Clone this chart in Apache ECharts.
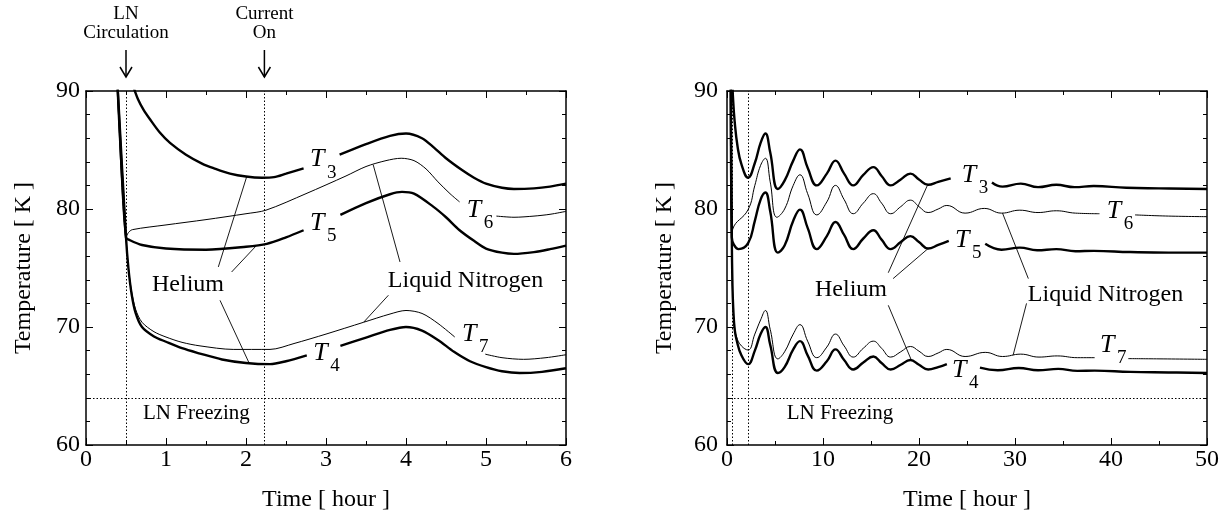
<!DOCTYPE html>
<html>
<head>
<meta charset="utf-8">
<title>Temperature</title>
<script src="https://cdn.jsdelivr.net/npm/echarts@6/dist/echarts.min.js"></script>
<style>
  html, body { margin: 0; padding: 0; background: #fff; }
  #myChart { width: 1227px; height: 514px; }
</style>
</head>
<body>
<div id="myChart"></div>
<script>
// ---- left panel, 0-6 h  ([time, K], null = gap for a label) ----
const leftT3 = [[0.59,90.4],[0.65,89.3],[0.72,88.4],[0.8,87.6],[0.92,86.5],[1.05,85.6],[1.25,84.6],[1.45,83.85],[1.6,83.45],[1.8,83.0],[2.0,82.75],[2.2,82.65],[2.35,82.7],[2.5,83.0],[2.72,83.45],
  null,
  [3.17,84.6],[3.5,85.5],[3.8,86.2],[4.0,86.4],[4.2,86.0],[4.35,85.2],[4.5,84.3],[4.7,83.3],[4.85,82.65],[5.0,82.15],[5.2,81.8],[5.35,81.7],[5.6,81.75],[5.8,81.9],[6.0,82.15]];
const leftT5 = [[0.39,91],[0.5,77.6],[0.55,77.35],[0.7,76.95],[1.0,76.65],[1.5,76.55],[2.0,76.8],[2.26,77.05],[2.5,77.6],[2.72,78.2],
  null,
  [3.18,79.5],[3.5,80.5],[3.8,81.25],[3.95,81.45],[4.1,81.3],[4.34,80.2],[4.5,79.3],[4.67,78.2],[4.85,77.3],[5.0,76.65],[5.2,76.3],[5.35,76.2],[5.6,76.35],[5.8,76.6],[6.0,76.9]];
const leftT6 = [[0.39,91],[0.5,77.6],[0.53,78.0],[0.58,78.25],[1.0,78.65],[1.5,79.1],[2.0,79.6],[2.25,79.9],[2.75,81.3],[3.25,82.8],[3.5,83.6],[3.75,84.1],[3.94,84.3],[4.1,84.1],[4.25,83.4],[4.4,82.3],[4.55,81.3],[4.67,80.6],
  null,
  [5.13,79.4],[5.35,79.3],[5.6,79.4],[5.8,79.55],[6.0,79.8]];
const leftT7 = [[0.39,91],[0.5,77.6],[0.53,75.0],[0.57,73.0],[0.62,71.5],[0.7,70.4],[0.85,69.6],[1.0,69.15],[1.2,68.7],[1.425,68.4],[1.84,68.1],[2.3,68.1],[2.6,68.6],[3.0,69.4],[3.47,70.4],[3.8,71.1],[4.0,71.4],[4.2,71.15],[4.4,70.3],[4.61,69.15],
  null,
  [4.99,67.7],[5.2,67.4],[5.47,67.26],[5.75,67.4],[6.0,67.65]];
const leftT4 = [[0.39,91],[0.5,77.6],[0.53,75.0],[0.57,72.8],[0.62,71.2],[0.7,70.0],[0.85,69.2],[1.0,68.75],[1.2,68.2],[1.425,67.75],[1.7,67.25],[2.0,66.95],[2.3,66.85],[2.5,67.1],[2.76,67.6],
  null,
  [3.18,68.4],[3.5,69.1],[3.8,69.75],[4.0,70.0],[4.2,69.7],[4.4,68.9],[4.6,67.9],[4.8,67.1],[5.0,66.6],[5.2,66.25],[5.42,66.1],[5.7,66.2],[6.0,66.5]];

// ---- right panel, 0-50 h ----
const rightT3 = [[0.55,91],[0.62,89.5],[0.8,87.4],[1.1,85.3],[1.5,83.8],[2.2,82.65],[2.9,83.9],[3.5,85.6],[4.0,86.4],[4.5,84.8],[5.3,81.7],[6.0,82.4],[6.9,84.1],[7.6,85.05],[8.4,83.5],[9.35,82.0],[10.4,83.0],[11.3,84.1],[12.2,83.0],[13.15,82.0],[14.2,82.9],[15.25,83.55],[16.1,82.8],[17.05,82.0],[18.1,82.5],[19.1,83.0],[20.0,82.5],[20.95,82.05],[22.0,82.3],[23.3,82.6],
  null,
  [27.6,82.25],[28.7,81.9],[30.6,82.15],[32.4,81.85],[34.3,82.05],[36.2,81.85],[38.2,81.95],[41.6,81.8],[45,81.75],[50,81.7]];
const rightT6 = [[0.39,91],[0.5,77.6],[0.6,78.3],[2.2,79.95],[2.9,82.0],[3.5,83.7],[4.0,84.3],[4.5,82.3],[5.2,79.3],[6.0,80.0],[6.9,82.0],[7.6,82.9],[8.4,81.3],[9.35,79.5],[10.4,80.6],[11.3,82.0],[12.2,80.8],[13.15,79.6],[14.2,80.5],[15.25,81.3],[16.1,80.5],[17.05,79.6],[18.1,80.2],[19.1,80.75],[20.0,80.2],[20.95,79.7],[22.0,80.0],[22.9,80.3],[24.8,79.65],[26.8,80.05],[28.6,79.65],[30.5,79.9],[32.4,79.7],[34.3,79.85],[36.3,79.65],[38.8,79.6],
  null,
  [42.5,79.5],[46,79.4],[50,79.35]];
const rightT5 = [[0.39,91],[0.5,77.6],[0.7,77.0],[1.2,76.6],[2.2,77.1],[2.9,79.0],[3.5,80.8],[4.0,81.4],[4.5,79.8],[5.3,76.3],[6.0,76.9],[6.9,79.0],[7.6,79.95],[8.4,78.4],[9.35,76.6],[10.4,77.7],[11.3,78.9],[12.2,77.8],[13.15,76.6],[14.2,77.5],[15.25,78.2],[16.1,77.4],[17.05,76.6],[18.1,77.2],[19.1,77.7],[20.0,77.2],[20.95,76.65],[22.0,76.95],[23.1,77.3],
  null,
  [26.9,77.05],[28.6,76.55],[30.5,76.73],[32.3,76.5],[34.3,76.6],[36.3,76.42],[38.2,76.45],[42,76.35],[46,76.3],[50,76.3]];
const rightT7 = [[0.39,91],[0.5,77.6],[0.6,72.2],[0.75,70.3],[1.0,69.15],[1.5,68.4],[2.2,68.05],[2.9,69.4],[3.5,70.6],[4.0,71.4],[4.5,69.8],[5.3,67.3],[6.0,67.9],[6.9,69.4],[7.6,70.2],[8.4,68.8],[9.35,67.4],[10.4,68.3],[11.3,69.4],[12.2,68.4],[13.15,67.45],[14.2,68.2],[15.25,68.8],[16.1,68.2],[17.05,67.45],[18.1,67.9],[19.1,68.35],[20.0,67.95],[20.95,67.5],[22.0,67.8],[22.9,68.1],[24.8,67.5],[26.9,67.85],[28.7,67.5],[30.6,67.7],[32.5,67.45],[34.4,67.55],[36.5,67.4],[38.3,67.4],
  null,
  [41.8,67.32],[45,67.3],[50,67.26]];
const rightT4 = [[0.39,91],[0.5,77.6],[0.57,73.5],[0.65,71.6],[0.8,69.8],[1.0,68.9],[1.5,67.6],[2.2,66.85],[2.9,68.0],[3.5,69.4],[4.0,70.0],[4.5,68.5],[5.3,66.1],[6.0,66.6],[6.9,68.1],[7.6,68.8],[8.4,67.6],[9.35,66.3],[10.4,67.1],[11.3,68.1],[12.2,67.2],[13.15,66.4],[14.2,67.0],[15.25,67.5],[16.1,66.95],[17.05,66.4],[18.1,66.8],[19.1,67.2],[20.0,66.8],[20.95,66.4],[22.0,66.6],[22.9,66.85],
  null,
  [26.35,66.55],[28.2,66.33],[30.4,66.53],[32.4,66.33],[34.5,66.45],[36.5,66.28],[38.3,66.3],[42,66.2],[46,66.15],[50,66.1]];

// reference lines
const lnCirculation = 0.5;
const currentOn = 2.23;
const lnFreezing = 64;

// leader lines [[t,K],[t,K]]
const leftLeaders = [
  [[1.654,75.09],[2.008,82.72]],
  [[1.82,74.66],[2.13,76.9]],
  [[1.675,72.26],[2.04,66.93]],
  [[3.925,75.51],[3.59,83.75]],
  [[3.78,72.69],[3.47,70.4]]
];
const rightLeaders = [
  [[16.8,74.6],[20.9,82.05]],
  [[17.3,74.1],[20.95,76.65]],
  [[16.8,71.84],[19.2,67.2]],
  [[31.39,74.1],[28.7,79.65]],
  [[31.2,72.0],[29.8,67.6]]
];

const FONT = '"Liberation Serif", "Times New Roman", Times, serif';

function splitSegs(arr) {
  const out = [[]];
  arr.forEach(function (p) {
    if (p === null) out.push([]);
    else out[out.length - 1].push(p);
  });
  return out.filter(function (s) { return s.length; });
}

function lineSeries(arr, width, grid, smooth) {
  return splitSegs(arr).map(function (seg) {
    return {
      type: "line",
      xAxisIndex: grid * 2,
      yAxisIndex: grid * 2,
      data: seg,
      symbol: "none",
      smooth: smooth,
      lineStyle: { color: "#000", width: width },
      silent: true,
      z: 3,
    };
  });
}

function guideSeries(grid, leaders) {
  const dotted = { color: "#000", width: 1, type: [1.5, 2] };
  const solid = { color: "#000", width: 0.9, type: "solid" };
  const lines = [
    { xAxis: lnCirculation, lineStyle: dotted },
    { xAxis: currentOn, lineStyle: dotted },
    { yAxis: lnFreezing, lineStyle: dotted },
  ];
  leaders.forEach(function (l) {
    lines.push([{ coord: l[0], lineStyle: solid }, { coord: l[1] }]);
  });
  return {
    type: "line",
    xAxisIndex: grid * 2,
    yAxisIndex: grid * 2,
    data: [],
    silent: true,
    markLine: {
      silent: true,
      symbol: ["none", "none"],
      label: { show: false },
      animation: false,
      data: lines,
    },
  };
}

function xAxisCfg(grid, max, interval, pos) {
  return {
    type: "value", gridIndex: grid, position: pos,
    min: 0, max: max, interval: interval,
    axisLine: { show: true, onZero: false, lineStyle: { color: "#000", width: 1.5 } },
    axisTick: { show: true, inside: true, length: 7, lineStyle: { color: "#000", width: 1 } },
    minorTick: { show: true, splitNumber: 2, length: 4, lineStyle: { color: "#000", width: 1 } },
    splitLine: { show: false },
    axisLabel: { show: pos === "bottom", color: "#000", fontFamily: FONT, fontSize: 24, margin: 3 },
    name: pos === "bottom" ? "Time [ hour ]" : "",
    nameLocation: "middle",
    nameGap: 43,
    nameTextStyle: { color: "#000", fontFamily: FONT, fontSize: 24 },
  };
}

function yAxisCfg(grid, pos, margin) {
  return {
    type: "value", gridIndex: grid, position: pos,
    min: 60, max: 90, interval: 10,
    axisLine: { show: true, onZero: false, lineStyle: { color: "#000", width: 1.5 } },
    axisTick: { show: true, inside: true, length: 7, lineStyle: { color: "#000", width: 1 } },
    minorTick: { show: true, splitNumber: 5, length: 4, lineStyle: { color: "#000", width: 1 } },
    splitLine: { show: false },
    axisLabel: { show: pos === "left", color: "#000", fontFamily: FONT, fontSize: 24, margin: margin },
    name: pos === "left" ? "Temperature [ K ]" : "",
    nameLocation: "middle",
    nameGap: 50,
    nameTextStyle: { color: "#000", fontFamily: FONT, fontSize: 24 },
  };
}

const THICK = 2.4;
const THIN = 1;

let series = [guideSeries(0, leftLeaders), guideSeries(1, rightLeaders)];
series = series.concat(
  lineSeries(leftT3, THICK, 0, 0.3),
  lineSeries(leftT5, THICK, 0, 0.3),
  lineSeries(leftT4, THICK, 0, 0.3),
  lineSeries(leftT6, THIN, 0, 0.3),
  lineSeries(leftT7, THIN, 0, 0.3),
  lineSeries(rightT3, THICK, 1, 0.45),
  lineSeries(rightT5, THICK, 1, 0.45),
  lineSeries(rightT4, THICK, 1, 0.45),
  lineSeries(rightT6, THIN, 1, 0.45),
  lineSeries(rightT7, THIN, 1, 0.45)
);

const option = {
  animation: false,
  backgroundColor: "#fff",
  grid: [
    { left: 86, top: 91, width: 480, height: 354, outerBoundsMode: "none" },
    { left: 727, top: 91, width: 480, height: 354, outerBoundsMode: "none" },
  ],
  xAxis: [
    xAxisCfg(0, 6, 1, "bottom"),
    xAxisCfg(0, 6, 1, "top"),
    xAxisCfg(1, 50, 10, "bottom"),
    xAxisCfg(1, 50, 10, "top"),
  ],
  yAxis: [
    yAxisCfg(0, "left", 6),
    yAxisCfg(0, "right", 6),
    yAxisCfg(1, "left", 9),
    yAxisCfg(1, "right", 9),
  ],
  series: series,
};

const myChart = echarts.init(document.getElementById("myChart"));
myChart.setOption(option);

// curve names and notes, placed through the axes
const tLabels = [
  { grid: 0, at: [2.80, 84.19], n: "3" },
  { grid: 0, at: [2.80, 78.83], n: "5" },
  { grid: 0, at: [2.84, 67.77], n: "4" },
  { grid: 0, at: [4.76, 79.89], n: "6" },
  { grid: 0, at: [4.70, 69.38], n: "7" },
  { grid: 1, at: [24.45, 82.86], n: "3" },
  { grid: 1, at: [39.55, 79.80], n: "6" },
  { grid: 1, at: [23.75, 77.39], n: "5" },
  { grid: 1, at: [38.85, 68.49], n: "7" },
  { grid: 1, at: [23.44, 66.37], n: "4" },
];
const notes = [
  { grid: 0, at: [1.275, 73.62], text: "Helium", size: 24 },
  { grid: 0, at: [4.744, 73.96], text: "Liquid Nitrogen", size: 24 },
  { grid: 0, at: [1.38, 62.69], text: "LN Freezing", size: 21 },
  { grid: 1, at: [12.92, 73.2], text: "Helium", size: 24 },
  { grid: 1, at: [39.43, 72.77], text: "Liquid Nitrogen", size: 24 },
  { grid: 1, at: [11.77, 62.69], text: "LN Freezing", size: 21 },
];

function txt(x, y, text, font, align) {
  return {
    type: "text", x: x, y: y, silent: true, z: 10,
    style: { text: text, fill: "#000", font: font, align: align, verticalAlign: "middle", textAlign: align, textVerticalAlign: "middle" },
  };
}

const elements = [];
tLabels.forEach(function (l) {
  const p = myChart.convertToPixel({ gridIndex: l.grid }, l.at);
  elements.push(txt(p[0], p[1], "T", "italic 26px " + FONT, "left"));
  elements.push(txt(p[0] + 17, p[1] + 13, l.n, "19px " + FONT, "left"));
});
notes.forEach(function (l) {
  const p = myChart.convertToPixel({ gridIndex: l.grid }, l.at);
  elements.push(txt(p[0], p[1], l.text, l.size + "px " + FONT, "center"));
});

// top arrows
[[lnCirculation, "LN", "Circulation"], [currentOn, "Current", "On"]].forEach(function (a) {
  const x = myChart.convertToPixel({ xAxisIndex: 0 }, a[0]);
  elements.push(txt(x, 14, a[1], "19px " + FONT, "center"));
  elements.push(txt(x, 33, a[2], "19px " + FONT, "center"));
  elements.push({ type: "line", silent: true, shape: { x1: x, y1: 50, x2: x, y2: 77 }, style: { stroke: "#000", lineWidth: 1.5 } });
  elements.push({ type: "polyline", silent: true, shape: { points: [[x - 6, 67], [x, 77], [x + 6, 67]] }, style: { stroke: "#000", lineWidth: 1.5, fill: null } });
});

myChart.setOption({ graphic: { elements: elements } });
</script>
</body>
</html>
